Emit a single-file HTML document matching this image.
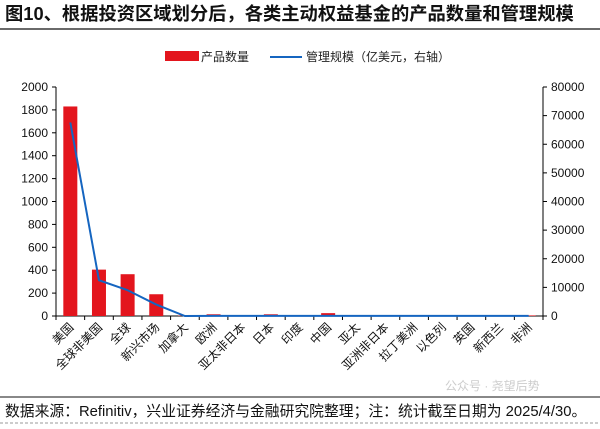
<!DOCTYPE html>
<html><head><meta charset="utf-8">
<style>
body{margin:0;background:#fff;width:600px;height:424px;overflow:hidden;font-family:"Liberation Sans","Noto Sans CJK SC",sans-serif;}
svg text{font-family:"Liberation Sans","Noto Sans CJK SC",sans-serif;}
</style></head>
<body>
<svg width="600" height="424">
<text x="5" y="20" font-size="18.3" font-weight="bold" fill="#111">图10、根据投资区域划分后，各类主动权益基金的产品数量和管理规模</text>
<line x1="0" y1="29" x2="600" y2="29" stroke="#111" stroke-width="1.2"/>
<g>
<rect x="165" y="51" width="34" height="10" fill="#e3151d"/>
<text x="201" y="61" font-size="12" fill="#222">产品数量</text>
<line x1="270" y1="57" x2="302" y2="57" stroke="#1565c0" stroke-width="2"/>
<text x="306" y="61" font-size="12" fill="#222">管理规模（亿美元，右轴）</text>
</g>
<g id="axes"></g><g id="bars"></g><g id="line"></g>
<line x1="0" y1="397" x2="600" y2="397" stroke="#111" stroke-width="1"/>
<text x="5" y="416" font-size="14.8" fill="#111">数据来源：Refinitiv，兴业证券经济与金融研究院整理；注：统计截至日期为 2025/4/30。</text>
<line x1="0" y1="423" x2="600" y2="423" stroke="#999" stroke-dasharray="3,2"/>
<text x="445" y="390" font-size="12" fill="#ccc">公众号 · 尧望后势</text>
</svg>
<script>
const categories=["美国","全球非美国","全球","新兴市场","加拿大","欧洲","亚太非日本","日本","印度","中国","亚太","亚洲非日本","拉丁美洲","以色列","英国","新西兰","非洲"];
const counts=[1830,405,365,190,3,15,5,15,5,25,5,5,5,5,5,5,5];
const aum=[67600,12500,9000,4000,0,50,50,50,50,50,50,50,50,50,50,50,50];
const leftTicks=[0,200,400,600,800,1000,1200,1400,1600,1800,2000];
const rightTicks=[0,10000,20000,30000,40000,50000,60000,70000,80000];
const NS="http://www.w3.org/2000/svg";
const X0=56,X1=543,Y0=316,Y1=87;
const bw=(X1-X0)/categories.length;
const xc=i=>X0+bw*(i+0.5);
const yl=v=>Y0-(v/2000)*(Y0-Y1);
const yr=v=>Y0-(v/80000)*(Y0-Y1);
function mk(t,a,p){const e=document.createElementNS(NS,t);for(const k in a)e.setAttribute(k,a[k]);p.appendChild(e);return e;}
const ax=document.getElementById('axes');
let e=mk('line',{x1:X0,y1:Y1,x2:X0,y2:Y0,stroke:'#000'},ax);


e=mk('line',{x1:X1,y1:Y1,x2:X1,y2:Y0,stroke:'#000'},ax);


e=mk('line',{x1:X0,y1:Y0,x2:X1,y2:Y0,stroke:'#000'},ax);


leftTicks.forEach(v=>{
 mk('line',{x1:X0-4,y1:yl(v),x2:X0,y2:yl(v),stroke:'#000'},ax);
 const t=mk('text',{x:X0-8,y:yl(v)+4,'text-anchor':'end','font-size':12,fill:'#111'},ax);t.textContent=v;
 
 
});
rightTicks.forEach(v=>{
 mk('line',{x1:X1,y1:yr(v),x2:X1+4,y2:yr(v),stroke:'#000'},ax);
 const t=mk('text',{x:X1+8,y:yr(v)+4,'font-size':12,fill:'#111'},ax);t.textContent=v;
 
 
});
for(let i=0;i<=categories.length;i++)mk('line',{x1:X0+bw*i,y1:Y0,x2:X0+bw*i,y2:Y0+4,stroke:'#000'},ax);
categories.forEach((c,i)=>{
 const x=xc(i)+4,y=Y0+12;
 const t=mk('text',{x:x,y:y,'text-anchor':'end','font-size':12,fill:'#111',transform:`rotate(-45 ${x} ${y})`},ax);t.textContent=c;
 
 
});
const bg=document.getElementById('bars');
counts.forEach((v,i)=>{
 const r=mk('rect',{x:xc(i)-7,y:yl(v),width:14,height:Y0-yl(v),fill:'#e3151d'},bg);
 
 
});
const p=mk('polyline',{points:aum.map((v,i)=>xc(i)+','+yr(v)).join(' '),fill:'none',stroke:'#1565c0','stroke-width':2},document.getElementById('line'));


</script>
</body></html>
